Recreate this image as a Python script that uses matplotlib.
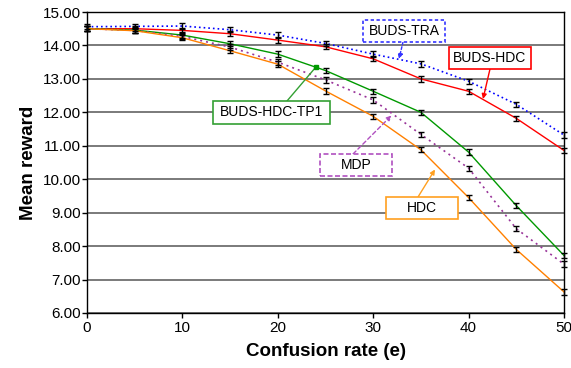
import matplotlib
matplotlib.use("Agg")
import matplotlib.pyplot as plt
from matplotlib.patches import Rectangle

plt.rcParams['font.family'] = ['Liberation Sans', 'DejaVu Sans']

# ---- data ----
confusion = [0, 5, 10, 15, 20, 25, 30, 35, 40, 45, 50]
buds_tra = [14.56, 14.57, 14.58, 14.47, 14.31, 14.06, 13.74, 13.45, 12.93, 12.24, 11.32]
buds_hdc = [14.50, 14.50, 14.45, 14.35, 14.16, 13.96, 13.60, 13.00, 12.63, 11.82, 10.86]
buds_hdc_tp1 = [14.50, 14.46, 14.31, 14.05, 13.74, 13.25, 12.63, 12.00, 10.81, 9.21, 7.72]
mdp = [14.50, 14.45, 14.27, 13.95, 13.50, 12.97, 12.37, 11.34, 10.33, 8.52, 7.46]
hdc = [14.50, 14.44, 14.23, 13.84, 13.44, 12.64, 11.88, 10.88, 9.45, 7.90, 6.63]
err = 0.08
yticks = [6, 7, 8, 9, 10, 11, 12, 13, 14, 15]
xticks = [0, 10, 20, 30, 40, 50]

series = [
    ("BUDS-TRA", buds_tra, '#0000FF', (0, (1, 1.8)), 1.2),
    ("BUDS-HDC", buds_hdc, '#FF0000', '-', 1.0),
    ("BUDS-HDC-TP1", buds_hdc_tp1, '#009900', '-', 1.0),
    ("MDP", mdp, '#993399', (0, (1.2, 2.4)), 1.2),
    ("HDC", hdc, '#FF8000', '-', 1.0),
]

fig = plt.figure(figsize=(5.71, 3.68), dpi=100)
ax = fig.add_axes([87/571, 1-313/368, (564-87)/571, (313-12)/368])

for name, vals, col, ls, lw in series:
    ax.plot(confusion, vals, color=col, linestyle=ls, linewidth=lw, zorder=3)
for name, vals, col, ls, lw in series:
    ax.errorbar(confusion, vals, yerr=err, fmt='none', ecolor='black',
                elinewidth=1.0, capsize=2.5, capthick=1.0, zorder=4, clip_on=False)

ax.set_xlim(0, 50)
ax.set_ylim(6, 15)
ax.set_xticks(xticks)
ax.set_yticks(yticks)
ax.set_yticklabels([f"{v:.2f}" for v in yticks])
ax.tick_params(axis='both', labelsize=11, direction='out', length=3.5, width=1, color='black')
ax.tick_params(axis='y', pad=1)
ax.tick_params(axis='x', pad=2)
ax.yaxis.grid(True, color='#707070', linewidth=1.3)
ax.set_axisbelow(True)
for s in ax.spines.values():
    s.set_color('black')
    s.set_linewidth(1.0)

ax.set_xlabel("Confusion rate (e)", fontsize=13.5, fontweight='bold', labelpad=6)
ax.set_ylabel("Mean reward", fontsize=13.5, fontweight='bold', labelpad=4)

# ---- annotation boxes (pixel layout converted to data coords) ----
def px2d(px, py):
    return ((px - 87) / (564 - 87) * 50, 15 - (py - 12) / (313 - 12) * 9)

def box(label, x0, y0, x1, y1, col, ls, start, tip, arrowstyle, arrow_ls):
    (dx0, dy1) = px2d(x0, y1)
    (dx1, dy0) = px2d(x1, y0)
    r = Rectangle((dx0, dy1), dx1 - dx0, dy0 - dy1, facecolor='white', edgecolor=col,
                  linewidth=1.2, linestyle=ls, zorder=6)
    ax.add_patch(r)
    cx, cy = px2d((x0 + x1) / 2, (y0 + y1) / 2)
    ax.text(cx, cy, label, fontsize=10, ha='center', va='center', color='black', zorder=7)
    ax.annotate('', xy=px2d(*tip), xytext=px2d(*start),
                arrowprops=dict(arrowstyle=arrowstyle, color=col, lw=1.0, linestyle=arrow_ls,
                                shrinkA=0, shrinkB=0, mutation_scale=7),
                zorder=5)

box("BUDS-TRA", 363, 20, 445, 42, '#3333FF', (0, (2, 1.5)), (403, 42), (399, 59), '-|>', (0, (2, 1.5)))
box("BUDS-HDC", 449, 47, 531, 69, '#FF0000', '-', (490, 69), (483, 99), '-|>', '-')
box("BUDS-HDC-TP1", 213, 101, 330, 124, '#33A033', '-', (287, 101), (315.5, 67.5), '-', '-')
ax.plot(*px2d(315.5, 67.5), marker='s', markersize=3, color='#009900', zorder=5)
box("MDP", 320, 154, 392, 176, '#B050C0', (0, (3, 1.5)), (353, 154), (391.5, 115.5), '-|>', (0, (3, 2)))
box("HDC", 386, 197, 458, 219, '#FFA020', '-', (418, 197), (435, 169.5), '-|>', '-')

fig.savefig("out.png", dpi=100)
